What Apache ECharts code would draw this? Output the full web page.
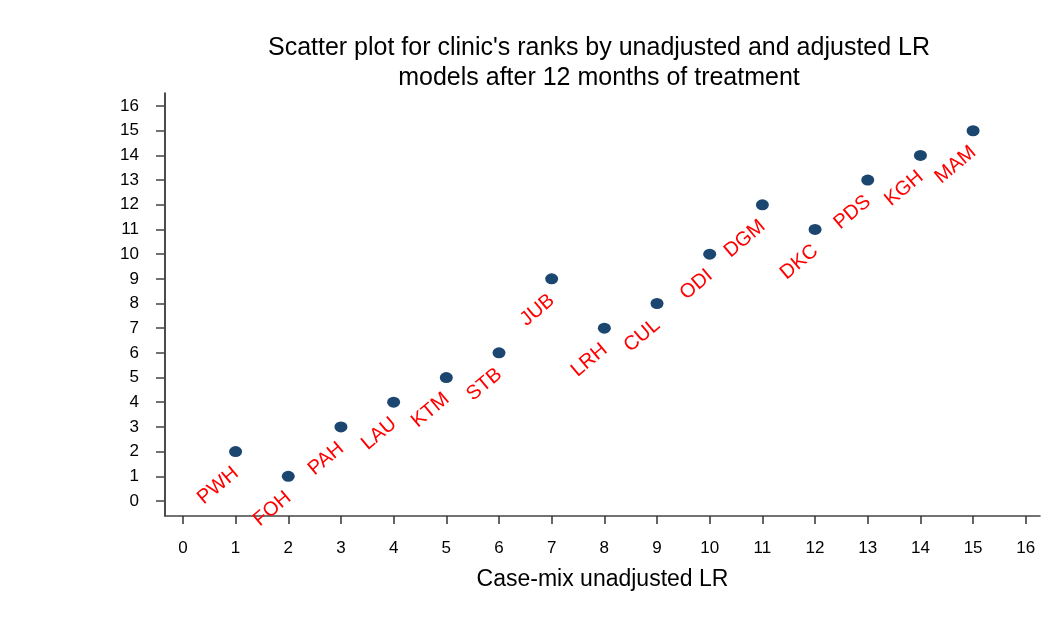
<!DOCTYPE html>
<html>
<head>
<meta charset="utf-8">
<script src="https://cdn.jsdelivr.net/npm/echarts@6/dist/echarts.min.js"></script>
<style>
  html, body { margin: 0; padding: 0; background: #fff; }
  #main { width: 1055px; height: 624px; }
</style>
</head>
<body>
<div id="main"></div>
<script>
var clinics = ["PWH", "FOH", "PAH", "LAU", "KTM", "STB", "JUB", "LRH", "CUL", "ODI", "DGM", "DKC", "PDS", "KGH", "MAM"];
var unadjustedRank = [1, 2, 3, 4, 5, 6, 7, 8, 9, 10, 11, 12, 13, 14, 15];
var adjustedRank = [2, 1, 3, 4, 5, 6, 9, 7, 8, 10, 12, 11, 13, 14, 15];
var tickValues = [0, 1, 2, 3, 4, 5, 6, 7, 8, 9, 10, 11, 12, 13, 14, 15, 16];

var points = [];
for (var i = 0; i < clinics.length; i++) {
  points.push({ name: clinics[i], value: [unadjustedRank[i], adjustedRank[i]] });
}

var myChart = echarts.init(document.getElementById("main"));
var option = {
  animation: false,
  backgroundColor: "#ffffff",
  title: {
    text: "Scatter plot for clinic's ranks by unadjusted and adjusted LR\nmodels after 12 months of treatment",
    left: 594,
    top: 28,
    textAlign: "center",
    textStyle: {
      fontFamily: "Liberation Sans",
      fontWeight: "normal",
      fontSize: 25,
      lineHeight: 30,
      color: "#000"
    }
  },
  grid: { left: 165, right: 15, top: 93, bottom: 108 },
  xAxis: {
    type: "value",
    min: -0.34,
    max: 16.27,
    name: "Case-mix unadjusted LR",
    nameLocation: "middle",
    nameGap: 52,
    nameTextStyle: { fontFamily: "Liberation Sans", fontSize: 23, color: "#000" },
    splitLine: { show: false },
    axisLine: { onZero: false, lineStyle: { color: "#444", width: 1.5 } },
    axisTick: { show: true, customValues: tickValues, length: 8, lineStyle: { color: "#333", width: 1.5 } },
    axisLabel: {
      customValues: tickValues,
      margin: 24,
      fontFamily: "Liberation Sans",
      fontSize: 17,
      color: "#000"
    }
  },
  yAxis: {
    type: "value",
    min: -0.61,
    max: 16.53,
    splitLine: { show: false },
    axisLine: { show: true, onZero: false, lineStyle: { color: "#111", width: 1.5 } },
    axisTick: { show: true, customValues: tickValues, length: 9, lineStyle: { color: "#444", width: 1.5 } },
    axisLabel: {
      customValues: tickValues,
      margin: 26,
      fontFamily: "Liberation Sans",
      fontSize: 17,
      color: "#000"
    }
  },
  series: [
    {
      type: "scatter",
      data: points,
      symbol: "circle",
      symbolSize: [13, 11],
      itemStyle: { color: "#1b4670", opacity: 1 },
      label: {
        show: true,
        formatter: "{b}",
        position: "left",
        distance: 0,
        offset: [-7, 19],
        rotate: 40,
        align: "right",
        verticalAlign: "middle",
        fontFamily: "Liberation Sans",
        fontSize: 20,
        color: "#ff0000"
      }
    }
  ]
};
myChart.setOption(option);
</script>
</body>
</html>
